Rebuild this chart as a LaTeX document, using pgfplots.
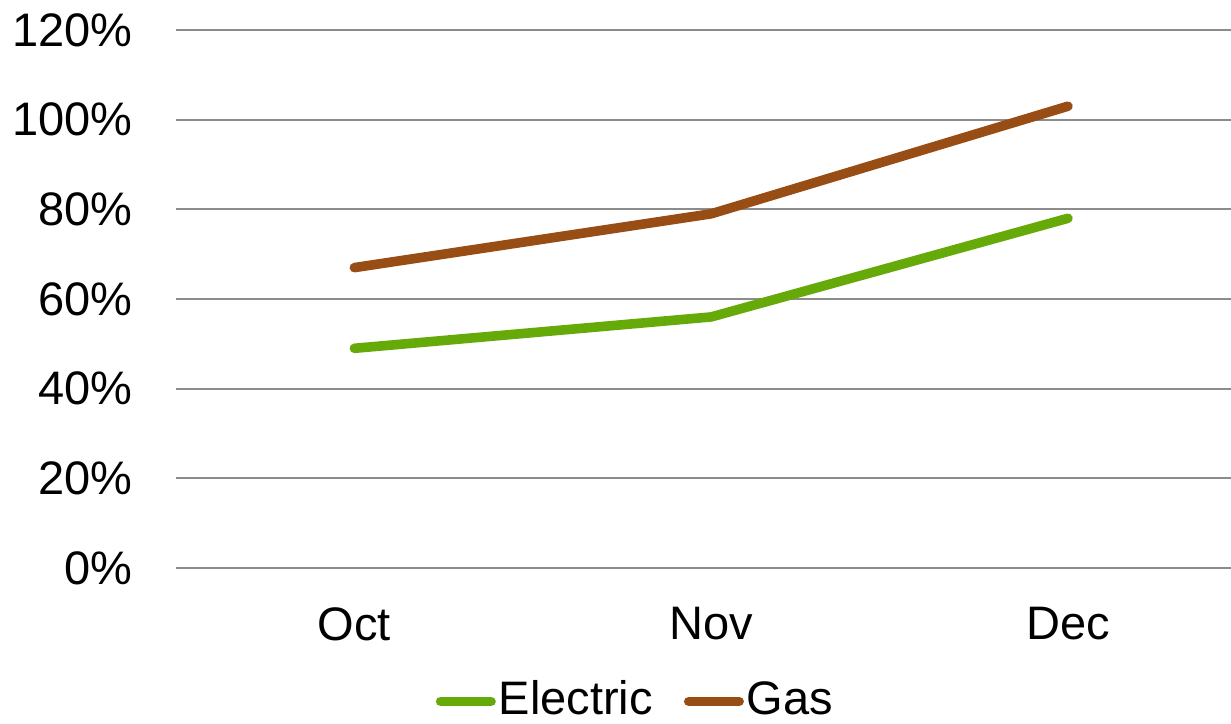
\documentclass[border=0pt]{standalone}
\usepackage{fontspec}
\setmainfont{Liberation Sans}
\usepackage{pgfplots}
\pgfplotsset{compat=1.18}
\definecolor{elec}{RGB}{102,170,10}
\definecolor{gas}{RGB}{151,77,19}
\definecolor{gridc}{RGB}{140,140,140}
\begin{document}
\fontsize{23.5}{28}\selectfont
\begin{tikzpicture}
\useasboundingbox (0,0) rectangle (615.5pt,361.5pt);
\begin{axis}[
    at={(88pt,77.5pt)}, anchor=south west,
    scale only axis,
    width=527.5pt, height=269pt,
    xmin=-0.5, xmax=2.457,
    ymin=0, ymax=120,
    xtick={0,1,2},
    xticklabels={Oct,Nov,Dec},
    ytick={0,20,...,120},
    yticklabel={\pgfmathprintnumber{\tick}\%},
    /pgf/number format/assume math mode=true,
    axis line style={draw=none},
    major tick length=0pt,
    ymajorgrids,
    grid style={gridc, line width=1pt},
    yticklabel style={anchor=east, inner sep=0pt, xshift=-21.5pt},
    xticklabel style={anchor=north, inner sep=0pt, yshift=-19.5pt},
    legend columns=2,
    legend style={draw=none, at={(0.436,-0.248)}, anchor=center,
        font=\fontsize{23.5}{28}\selectfont, inner sep=0pt,
        /tikz/every even column/.append style={column sep=14pt},
        nodes={inner sep=1.5pt}},
    legend image code/.code={\draw[#1, line cap=round] (2.4pt,0) -- (27.6pt,0);},
]
\addplot[elec, line width=4.8pt, line cap=round, line join=round] coordinates {(0,49) (1,56) (2,78)};
\addlegendentry{Electric}
\addplot[gas, line width=4.8pt, line cap=round, line join=round] coordinates {(0,67) (1,79) (2,103)};
\addlegendentry{Gas}
\end{axis}
\end{tikzpicture}
\end{document}
